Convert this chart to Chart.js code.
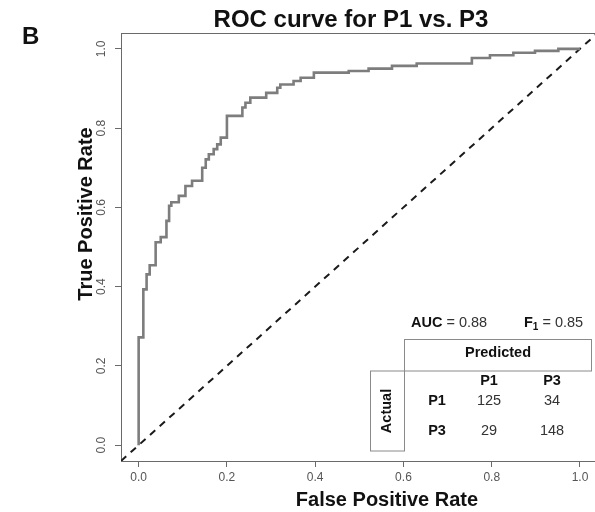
<!DOCTYPE html>
<html><head><meta charset="utf-8">
<script src="https://cdn.jsdelivr.net/npm/chart.js@4/dist/chart.umd.min.js"></script>
<style>html,body{margin:0;padding:0;background:#fff}#wrap{width:595px;height:512px;position:relative}</style>
</head><body><div id="wrap"><canvas id="c" width="595" height="512"></canvas></div>
<script>
// ROC curve vertices (step curve: rise at previous FPR, then run to this FPR)
const fpr = [0, 0.0106, 0.018, 0.025, 0.0385, 0.05, 0.063, 0.069, 0.074, 0.091, 0.106, 0.121, 0.144, 0.152, 0.159, 0.170, 0.178, 0.186, 0.200, 0.235, 0.242, 0.253, 0.289, 0.314, 0.321, 0.351, 0.367, 0.397, 0.476, 0.521, 0.574, 0.630, 0.755, 0.796, 0.849, 0.898, 0.951, 1.0];
const tpr = [0, 0.272, 0.393, 0.431, 0.454, 0.512, 0.525, 0.566, 0.604, 0.613, 0.629, 0.654, 0.667, 0.700, 0.721, 0.734, 0.747, 0.759, 0.776, 0.831, 0.852, 0.864, 0.877, 0.889, 0.902, 0.910, 0.919, 0.927, 0.940, 0.944, 0.950, 0.957, 0.963, 0.977, 0.984, 0.990, 0.995, 1.0];
const diagonal = [-0.04, 1.04];
const axisTicks = [0, 0.2, 0.4, 0.6, 0.8, 1.0];
const classes = ['P1', 'P3'];
const confusionP1 = [125, 34];
const confusionP3 = [29, 148];
const aucValue = 0.88;
const f1Value = 0.85;

const FONT = "'Liberation Sans', Arial, Helvetica, sans-serif";
const AXIS = '#6a6a6a';
const TICK = '#555555';

const annot = {
  id: 'annot',
  afterDraw(chart) {
    const ctx = chart.ctx, a = chart.chartArea, ys = chart.scales.y;
    ctx.save();
    // top frame line
    ctx.strokeStyle = AXIS; ctx.lineWidth = 1;
    ctx.beginPath(); ctx.moveTo(a.left, a.top + 0.5); ctx.lineTo(a.right, a.top + 0.5); ctx.stroke();
    // rotated y tick labels
    ctx.fillStyle = TICK; ctx.font = `12px ${FONT}`; ctx.textAlign = 'center'; ctx.textBaseline = 'alphabetic';
    axisTicks.forEach(v => {
      const py = ys.getPixelForValue(v);
      ctx.save(); ctx.translate(105, py); ctx.rotate(-Math.PI / 2); ctx.fillText(v.toFixed(1), 0, 0); ctx.restore();
    });
    // panel letter
    ctx.fillStyle = '#111'; ctx.textAlign = 'left';
    ctx.font = `bold 24px ${FONT}`; ctx.fillText('B', 22, 44);
    // title
    ctx.textAlign = 'center';
    ctx.fillText('ROC curve for P1 vs. P3', 351, 27);
    // axis titles
    ctx.font = `bold 20px ${FONT}`;
    ctx.fillText('False Positive Rate', 387, 506);
    ctx.save(); ctx.translate(92, 214); ctx.rotate(-Math.PI / 2); ctx.fillText('True Positive Rate', 0, 0); ctx.restore();

    // AUC and F1
    const fs = 14.5;
    ctx.textAlign = 'left'; ctx.fillStyle = '#111';
    let x = 411;
    ctx.font = `bold ${fs}px ${FONT}`; ctx.fillText('AUC', x, 327); x += ctx.measureText('AUC').width;
    ctx.font = `${fs}px ${FONT}`; ctx.fillStyle = '#333'; ctx.fillText(' = ' + aucValue.toFixed(2), x, 327);
    x = 524; ctx.fillStyle = '#111';
    ctx.font = `bold ${fs}px ${FONT}`; ctx.fillText('F', x, 327); x += ctx.measureText('F').width;
    ctx.font = `bold 10px ${FONT}`; ctx.fillText('1', x, 330); x += ctx.measureText('1').width;
    ctx.font = `${fs}px ${FONT}`; ctx.fillStyle = '#333'; ctx.fillText(' = ' + f1Value.toFixed(2), x, 327);

    // confusion matrix boxes
    ctx.strokeStyle = '#8a8a8a'; ctx.lineWidth = 1;
    ctx.strokeRect(404.5, 339.5, 187, 31.5);
    ctx.strokeRect(370.5, 371, 34, 80);
    ctx.fillStyle = '#111'; ctx.textAlign = 'center'; ctx.textBaseline = 'middle';
    ctx.font = `bold ${fs}px ${FONT}`;
    ctx.fillText('Predicted', 498, 353);
    ctx.save(); ctx.translate(387, 411); ctx.rotate(-Math.PI / 2); ctx.fillText('Actual', 0, 0); ctx.restore();
    const colX = [489, 552], rowY = [401, 431];
    classes.forEach((c, i) => ctx.fillText(c, colX[i], 381));
    classes.forEach((c, i) => ctx.fillText(c, 437, rowY[i]));
    ctx.font = `${fs}px ${FONT}`; ctx.fillStyle = '#333';
    [confusionP1, confusionP3].forEach((row, r) => row.forEach((v, cI) => ctx.fillText(String(v), colX[cI], rowY[r])));
    ctx.restore();
  }
};

new Chart(document.getElementById('c'), {
  type: 'line',
  data: {
    datasets: [
      {
        data: fpr.map((x, i) => ({ x, y: tpr[i] })),
        borderColor: '#7d7d7d', borderWidth: 2.6, stepped: 'after',
        pointRadius: 0, fill: false, order: 1
      },
      {
        data: diagonal.map(v => ({ x: v, y: v })),
        borderColor: '#1a1a1a', borderWidth: 2, borderDash: [7, 6],
        pointRadius: 0, fill: false, order: 2
      }
    ]
  },
  options: {
    responsive: false, animation: false, devicePixelRatio: 1,
    layout: { padding: { top: 33, left: 0, right: 0, bottom: 0 } },
    plugins: { legend: { display: false }, tooltip: { enabled: false }, title: { display: false } },
    scales: {
      x: {
        type: 'linear', min: -0.04, max: 1.034,
        afterFit: s => { s.height = 51; },
        afterBuildTicks: s => { s.ticks = axisTicks.map(v => ({ value: v })); },
        ticks: { color: TICK, font: { family: FONT, size: 12 }, padding: 3, maxRotation: 0, autoSkip: false,
                 callback: v => Number(v).toFixed(1) },
        grid: { drawOnChartArea: false, drawTicks: true, tickLength: 6, color: AXIS },
        border: { display: true, color: AXIS, width: 1 }
      },
      y: {
        type: 'linear', min: -0.04, max: 1.04,
        afterFit: s => { s.width = 121; },
        afterBuildTicks: s => { s.ticks = axisTicks.map(v => ({ value: v })); },
        ticks: { display: false },
        grid: { drawOnChartArea: false, drawTicks: true, tickLength: 6, color: AXIS },
        border: { display: true, color: AXIS, width: 1 }
      }
    }
  },
  plugins: [annot]
});
</script></body></html>
